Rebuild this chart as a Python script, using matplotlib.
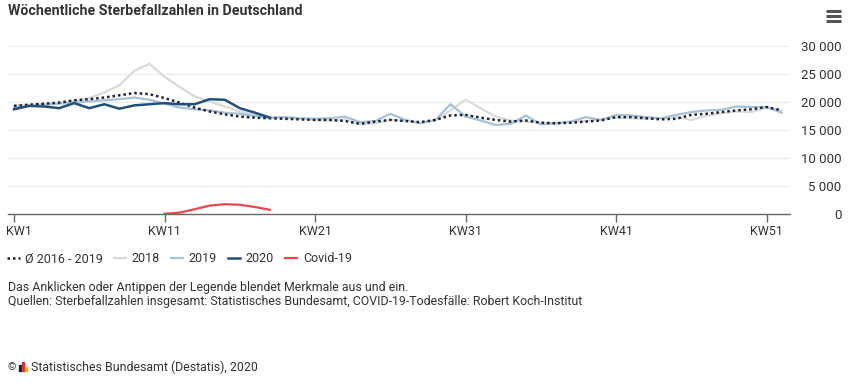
import matplotlib.pyplot as plt
import matplotlib.transforms as mtransforms
import numpy as np
from matplotlib.lines import Line2D
from matplotlib.patches import Rectangle
from matplotlib.ticker import FuncFormatter

plt.rcParams['font.family'] = ['Roboto', 'DejaVu Sans']

weeks = np.arange(1, 53)

avg_2016_2019 = [19300, 19500, 19700, 19900, 20300, 20500, 20800, 21200, 21600, 21400,
                 20700, 19900, 19000, 18300, 17800, 17400, 17200, 17100, 17000, 16900,
                 16800, 16800, 16600, 16100, 16500, 16800, 16600, 16400, 16800, 17600,
                 17700, 17200, 16800, 16500, 16700, 16300, 16200, 16300, 16500, 16700,
                 17300, 17300, 17100, 16900, 17000, 17700, 17900, 18200, 18500, 18700,
                 19100, 18500]
deaths_2018 = [19400, 19500, 19600, 19800, 20200, 20700, 21700, 23000, 25600, 26800,
               24500, 22700, 21000, 20100, 19200, 18300, 17700, 17300, 17200, 17000,
               16800, 16700, 16900, 16000, 16200, 16800, 16700, 16300, 16700, 18500,
               20400, 18900, 17400, 16700, 16500, 16300, 16200, 16400, 16600, 16900,
               17300, 17100, 17000, 17100, 17300, 16800, 17500, 18000, 18300, 18200,
               19000, 18500]
deaths_2019 = [19000, 19300, 19500, 19700, 19900, 20100, 20300, 20500, 20800, 20400,
               19700, 19000, 18700, 18500, 18100, 17900, 17500, 17200, 17300, 17100,
               17000, 17100, 17400, 16400, 16600, 17900, 16800, 16200, 16800, 19600,
               17400, 16700, 15900, 16100, 17600, 16000, 16200, 16500, 17300, 16800,
               17700, 17600, 17300, 17100, 17700, 18200, 18500, 18600, 19200, 19100,
               19100, 18100]
deaths_2020 = [18700, 19300, 19200, 18900, 19800, 18900, 19600, 18800, 19400, 19600,
               19800, 19600, 19600, 20500, 20400, 18900, 18100, 17200]
covid_weeks = np.arange(11, 19)
covid_deaths = [30, 250, 850, 1500, 1750, 1650, 1250, 750]

tick_weeks = [1, 11, 21, 31, 41, 51]
tick_labels = ["KW1", "KW11", "KW21", "KW31", "KW41", "KW51"]

W, H = 850, 383
fig = plt.figure(figsize=(W / 100, H / 100), dpi=100)
ax = fig.add_axes([8 / W, 1 - 214 / H, 782 / W, 168 / H])

c_avg = "#1b2233"
c_2018 = "#dadada"
c_2019 = "#a8c0d8"
c_2020 = "#21507f"
c_covid = "#e5474e"

ax.plot(weeks, deaths_2018, color=c_2018, lw=1.6, label="2018", zorder=2)
ax.plot(weeks, deaths_2019, color=c_2019, lw=1.6, label="2019", zorder=3)
ax.plot(weeks, avg_2016_2019, color=c_avg, lw=1.8, ls=(0, (1, 1.2)),
        label="\u00d8 2016 - 2019", zorder=4)
ax.plot(weeks[:len(deaths_2020)], deaths_2020, color=c_2020, lw=1.8, label="2020", zorder=5)
ax.plot(covid_weeks, covid_deaths, color=c_covid, lw=1.6, label="Covid-19", zorder=5)

ax.set_xlim(0.6, 52.56)
ax.set_ylim(0, 30000)
ax.set_yticks(np.arange(0, 30001, 5000))
ax.yaxis.set_major_formatter(FuncFormatter(lambda v, p: f"{v:,.0f}".replace(",", " ")))
ax.yaxis.tick_right()
ax.tick_params(axis='y', length=0, pad=37, labelsize=9.5, labelcolor="#333333")
for lab in ax.get_yticklabels():
    lab.set_ha("right")
ax.set_xticks(tick_weeks)
ax.set_xticklabels(tick_labels)
ax.tick_params(axis='x', length=6, width=1, color="#666666", pad=2,
               labelsize=9, labelcolor="#333333")
# Highcharts nudges the first label so it stays inside the plot
first = ax.get_xticklabels()[0]
first.set_transform(first.get_transform() + mtransforms.ScaledTranslation(5 / 100, 0, fig.dpi_scale_trans))

ax.grid(axis='y', color="#ececec", lw=0.8)
ax.set_axisbelow(True)
for side in ["top", "left", "right"]:
    ax.spines[side].set_visible(False)
ax.spines["bottom"].set_color("#666666")
ax.spines["bottom"].set_linewidth(1)

fig.text(8 / W, 1 - 11 / H, "Wöchentliche Sterbefallzahlen in Deutschland",
         fontsize=10.2, fontweight="bold", color="#333333", va="center")

# menu icon
for yy in (11, 16, 21):
    fig.add_artist(Line2D([826 / W, 841 / W], [1 - yy / H, 1 - yy / H],
                          color="#555555", lw=2.2, solid_capstyle="butt"))

handles, labels = ax.get_legend_handles_labels()
order = [2, 0, 1, 3, 4]
fig.legend([handles[i] for i in order], [labels[i] for i in order],
           loc="center left", bbox_to_anchor=(7 / W, 1 - 259 / H), ncol=5,
           frameon=False, fontsize=9, handlelength=1.0, handletextpad=0.45,
           columnspacing=0.85, borderpad=0, borderaxespad=0, labelcolor="#333333")

fig.text(8 / W, 1 - 287 / H, "Das Anklicken oder Antippen der Legende blendet Merkmale aus und ein.",
         fontsize=8.9, color="#333333", va="center")
fig.text(8 / W, 1 - 302 / H,
         "Quellen: Sterbefallzahlen insgesamt: Statistisches Bundesamt, COVID-19-Todesfälle: Robert Koch-Institut",
         fontsize=8.9, color="#333333", va="center")

fig.text(7 / W, 1 - 367 / H, "©", fontsize=7.5, color="#333333", va="center")
for x0, h, col in [(19, 6, "#222222"), (22, 9, "#d9303a"), (25, 4, "#f0b400")]:
    fig.add_artist(Rectangle((x0 / W, 1 - 371 / H), 2 / W, h / H, color=col))
fig.text(31 / W, 1 - 367 / H, "Statistisches Bundesamt (Destatis), 2020",
         fontsize=8.9, color="#333333", va="center")

fig.savefig("out.png", dpi=100)
